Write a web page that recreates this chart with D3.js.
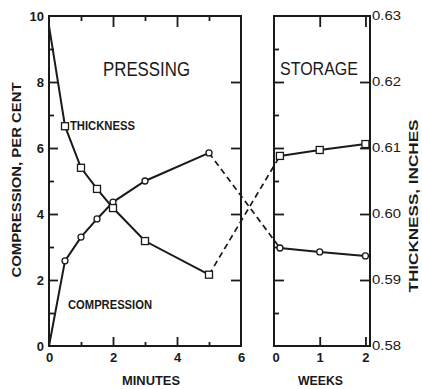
<!DOCTYPE html>
<html><head><meta charset="utf-8">
<script src="https://cdn.jsdelivr.net/npm/d3@7"></script>
<style>
html,body{margin:0;padding:0;background:#fff;}
svg{display:block;}
text{font-family:"Liberation Sans Narrow","Liberation Sans",Arial,sans-serif;fill:#1a1a1a;}
</style></head>
<body>
<svg id="c" width="422" height="389"></svg>
<script>
// ---- data ----
const pressMinutes = [0, 0.5, 1, 1.5, 2, 3, 5];
const pressCompression = [0, 2.58, 3.3, 3.85, 4.36, 5.0, 5.85];          // per cent
const pressThickness = [0.6285, 0.6133, 0.6070, 0.6038, 0.6009, 0.5959, 0.5908]; // inches
const storageWeeks = [0.13, 1, 2];
const storageThickness = [0.6088, 0.6097, 0.6106];
const storageCompression = [2.97, 2.85, 2.73];
const minuteTicks = [0, 2, 4, 6];
const weekTicks = [0, 1, 2];
const compTicks = [0, 2, 4, 6, 8, 10];
const thickTicks = [0.58, 0.59, 0.60, 0.61, 0.62, 0.63];

const svg = d3.select("#c");
const yTop = 16, yBot = 346;
const xMin = d3.scaleLinear().domain([0, 6]).range([49, 241]);
const xWk = d3.scaleLinear().domain([0, 2.1]).range([274, 370]);
const yL = d3.scaleLinear().domain([0, 10]).range([yBot, yTop]);
const yR = d3.scaleLinear().domain([0.58, 0.63]).range([yBot, yTop]);

function axis(gen, transform, ticks, size, fmt) {
  const g = svg.append("g").attr("transform", transform)
    .call(gen.tickValues(ticks).tickSizeInner(size).tickSizeOuter(0).tickPadding(4)
      .tickFormat(fmt || (() => "")));
  g.select(".domain").remove();
  g.selectAll(".tick line").attr("stroke", "#1a1a1a").attr("stroke-width", 1.8);
  g.selectAll(".tick text").attr("fill", "#1a1a1a").attr("font-weight", "bold")
    .attr("font-size", 13).style("font-family", '"Liberation Sans","Arial",sans-serif');
  return g;
}

// ---- left panel axes ----
axis(d3.axisLeft(yL), `translate(49,0)`, compTicks, 0, d3.format("d"))
  .selectAll(".tick text").attr("dx", -1);
axis(d3.axisLeft(yL), `translate(49,0)`, [2, 4, 6, 8], -9);
axis(d3.axisLeft(yL), `translate(49,0)`, [1, 3, 5, 7, 9], -5);
axis(d3.axisRight(yL), `translate(241,0)`, [2, 4, 6, 8], -10);
const bx = axis(d3.axisBottom(xMin), `translate(0,${yBot})`, minuteTicks, 0, d3.format("d"));
bx.selectAll(".tick text").attr("dy", "0.9em");
axis(d3.axisBottom(xMin), `translate(0,${yBot})`, [2, 4], -9);
axis(d3.axisBottom(xMin), `translate(0,${yBot})`, [1, 3, 5], -4);
axis(d3.axisTop(xMin), `translate(0,${yTop})`, [2, 4], -11);
axis(d3.axisTop(xMin), `translate(0,${yTop})`, [1, 3, 5], -5);

// ---- right panel axes ----
const wx = axis(d3.axisBottom(xWk), `translate(0,${yBot})`, weekTicks, 0, d3.format("d"));
wx.selectAll(".tick text").attr("dy", "0.9em");
wx.selectAll(".tick").filter(d => d === 0).attr("transform", `translate(276,0)`);
axis(d3.axisBottom(xWk), `translate(0,${yBot})`, [1, 2], -9);
axis(d3.axisTop(xWk), `translate(0,${yTop})`, [1, 2], -11);
axis(d3.axisLeft(yR), `translate(274,0)`, [0.59, 0.60, 0.61, 0.62], -10);
axis(d3.axisLeft(yR), `translate(274,0)`, [0.585, 0.595, 0.605, 0.615, 0.625], -5);
axis(d3.axisRight(yR), `translate(370,0)`, [0.59, 0.60, 0.61, 0.62], -10);
const ry = axis(d3.axisRight(yR), `translate(370,0)`, thickTicks, 0, d3.format(".2f"));
ry.selectAll(".tick text").attr("font-size", 12).attr("font-weight", "normal").attr("dx", -2)
  .attr("textLength", 29).attr("lengthAdjust", "spacingAndGlyphs");

// ---- frames ----
svg.append("rect").attr("x", 49).attr("y", yTop).attr("width", 241 - 49).attr("height", yBot - yTop)
  .attr("fill", "none").attr("stroke", "#1a1a1a").attr("stroke-width", 2);
svg.append("rect").attr("x", 274).attr("y", yTop).attr("width", 370 - 274).attr("height", yBot - yTop)
  .attr("fill", "none").attr("stroke", "#1a1a1a").attr("stroke-width", 2);

// ---- lines ----
const lineStyle = sel => sel.attr("fill", "none").attr("stroke", "#1a1a1a").attr("stroke-width", 2);
const compPts = pressMinutes.map((m, i) => [xMin(m), yL(pressCompression[i])]);
const thickPts = pressMinutes.map((m, i) => [xMin(m), yR(pressThickness[i])]);
const sCompPts = storageWeeks.map((w, i) => [xWk(w), yL(storageCompression[i])]);
const sThickPts = storageWeeks.map((w, i) => [xWk(w), yR(storageThickness[i])]);
const line = d3.line();
svg.append("path").attr("d", line(compPts)).call(lineStyle);
svg.append("path").attr("d", line(thickPts)).call(lineStyle);
svg.append("path").attr("d", line(sCompPts)).call(lineStyle);
svg.append("path").attr("d", line(sThickPts)).call(lineStyle);
// dashed connections across the gap
svg.append("path").attr("d", line([compPts[compPts.length - 1], sCompPts[0]])).call(lineStyle)
  .attr("stroke-width", 1.7).attr("stroke-dasharray", "6,4");
svg.append("path").attr("d", line([thickPts[thickPts.length - 1], sThickPts[0]])).call(lineStyle)
  .attr("stroke-width", 1.7).attr("stroke-dasharray", "6,4");

// ---- markers ----
const mk = svg.append("g");
mk.selectAll("circle.c").data(compPts.slice(1).concat(sCompPts)).join("circle")
  .attr("cx", d => d[0]).attr("cy", d => d[1]).attr("r", 3)
  .attr("fill", "#fff").attr("stroke", "#1a1a1a").attr("stroke-width", 1.3);
mk.selectAll("rect.s").data(thickPts.slice(1).concat(sThickPts)).join("rect")
  .attr("x", d => d[0] - 3.5).attr("y", d => d[1] - 3.5).attr("width", 7).attr("height", 7)
  .attr("fill", "#fff").attr("stroke", "#1a1a1a").attr("stroke-width", 1.3);

// ---- texts ----
function txt(x, y, s, size, weight, len, rot) {
  const t = svg.append("text").attr("x", x).attr("y", y).text(s)
    .attr("font-size", size).attr("font-weight", weight).attr("text-anchor", "middle");
  if (len) t.attr("textLength", len).attr("lengthAdjust", "spacingAndGlyphs");
  if (rot) t.attr("transform", `rotate(${rot},${x},${y})`);
  return t;
}
txt(146.5, 76, "PRESSING", 20, "normal", 87);
txt(319, 75, "STORAGE", 19, "normal", 78);
txt(102.5, 130, "THICKNESS", 12, "bold", 65);
txt(110, 309, "COMPRESSION", 12.5, "bold", 84);
txt(151, 385, "MINUTES", 13, "bold", 58);
txt(320.5, 385, "WEEKS", 13, "bold", 45);
txt(20.5, 180, "COMPRESSION,  PER CENT", 13, "bold", 195, -90);
txt(418, 206, "THICKNESS,  INCHES", 13, "bold", 173, -90);
</script>
</body></html>
